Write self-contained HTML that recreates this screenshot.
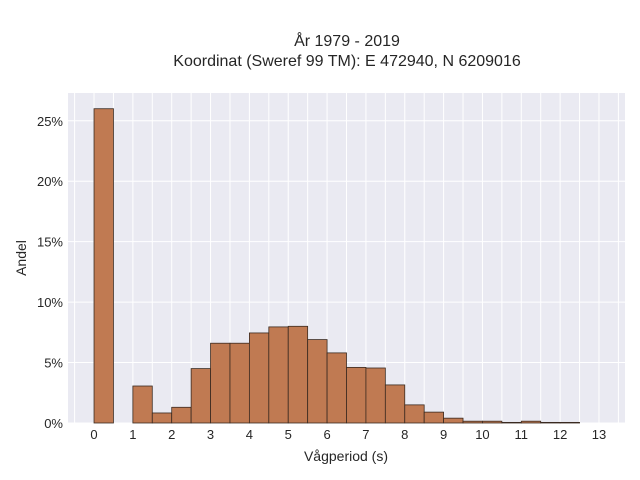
<!DOCTYPE html>
<html><head><meta charset="utf-8"><style>
body{margin:0;background:#fff;}
svg{display:block;font-family:"Liberation Sans",sans-serif;}
</style></head><body>
<svg id="chart" width="640" height="480">
<text x="347" y="46" text-anchor="middle" font-size="16" fill="#262626">År 1979 - 2019</text>
<text x="347" y="66" text-anchor="middle" font-size="16" fill="#262626">Koordinat (Sweref 99 TM): E 472940, N 6209016</text>
<rect x="68" y="93" width="557" height="330" fill="#eaeaf2"/>
<g id="grid"></g>
<g id="bars"></g>
<g id="ticks"></g>
<text x="346" y="461" text-anchor="middle" font-size="14" fill="#262626">Vågperiod (s)</text>
<text transform="translate(26,258) rotate(-90)" text-anchor="middle" font-size="14" fill="#262626">Andel</text>
</svg>
<script>
const binStarts=[0,0.5,1,1.5,2,2.5,3,3.5,4,4.5,5,5.5,6,6.5,7,7.5,8,8.5,9,9.5,10,10.5,11,11.5,12];
const shares=[26.0,0,3.06,0.83,1.3,4.5,6.6,6.6,7.45,7.95,8.0,6.9,5.8,4.6,4.55,3.15,1.5,0.9,0.4,0.15,0.15,0.05,0.15,0.05,0.05];
const binWidth=0.5;
const xTicks=[0,1,2,3,4,5,6,7,8,9,10,11,12,13];
const yTicks=[0,5,10,15,20,25];
const NS="http://www.w3.org/2000/svg";
const X0=-0.67,X1=13.67,Y1=27.3;
const L=68,R=625,T=93,B=423;
const x=v=>L+(v-X0)/(X1-X0)*(R-L);
const y=v=>B-v/Y1*(B-T);
const grid=document.getElementById('grid'),bars=document.getElementById('bars'),ticks=document.getElementById('ticks');
function mk(tag,attrs,parent){const e=document.createElementNS(NS,tag);for(const k in attrs)e.setAttribute(k,attrs[k]);parent.appendChild(e);return e;}
for(let v=-0.5;v<=13.5;v+=0.5){
 const l=mk('line',{x1:x(v),x2:x(v),y1:T,y2:B,stroke:'#fff','stroke-width':1},grid);
 
 
}
yTicks.forEach(t=>{
 const l=mk('line',{x1:L,x2:R,y1:y(t),y2:y(t),stroke:'#fff','stroke-width':1},grid);
 
 
 const tx=mk('text',{x:L-5,y:y(t)+5,'text-anchor':'end','font-size':13,fill:'#262626'},ticks);
 tx.textContent=t+'%';
 
 
});
xTicks.forEach(t=>{
 const tx=mk('text',{x:x(t),y:439,'text-anchor':'middle','font-size':13,fill:'#262626'},ticks);
 tx.textContent=t;
 
 
});
binStarts.forEach((s,i)=>{
 if(shares[i]<=0)return;
 const r=mk('rect',{x:x(s),y:y(shares[i]),width:x(s+binWidth)-x(s),height:B-y(shares[i]),fill:'#c07a52','stroke':'#3a2a20','stroke-width':0.8},bars);
 
 
});
</script>
</body></html>
